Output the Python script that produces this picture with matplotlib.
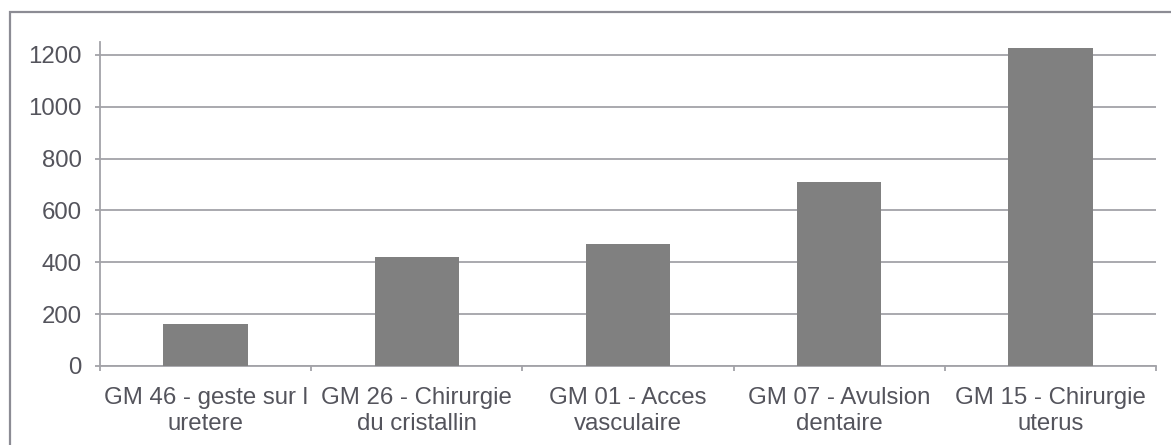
import matplotlib
matplotlib.use("Agg")
import matplotlib.pyplot as plt
from matplotlib.patches import Rectangle
from matplotlib.ticker import FixedLocator

categories = [
    "GM 46 - geste sur l\nuretere",
    "GM 26 - Chirurgie\ndu cristallin",
    "GM 01 - Acces\nvasculaire",
    "GM 07 - Avulsion\ndentaire",
    "GM 15 - Chirurgie\nuterus",
]
values = [162, 419, 472, 709, 1227]
yticks = [0, 200, 400, 600, 800, 1000, 1200]

plt.rcParams["font.family"] = ["Liberation Sans", "DejaVu Sans"]
grid_col = "#a3a3a8"
text_col = "#54545c"
fs = 17.3

fig = plt.figure(figsize=(11.71, 4.45), dpi=100)
W, H = 1171, 445
ax = fig.add_axes([100 / W, 1 - 366 / H, (1156 - 100) / W, (366 - 42) / H])

x = list(range(len(categories)))
ax.bar(x, values, width=0.4, color="#808080", zorder=3)

ax.set_xlim(-0.5, len(categories) - 0.5)
ax.set_ylim(0, 1250)
ax.set_yticks(yticks)
ax.yaxis.grid(True, color=grid_col, linewidth=1.3, zorder=0)

ax.set_xticks(x)
ax.set_xticklabels(categories, linespacing=1.25)
ax.xaxis.set_minor_locator(FixedLocator([i - 0.5 for i in range(len(categories) + 1)]))
ax.tick_params(axis="x", which="major", length=0, pad=15, labelsize=fs, labelcolor=text_col)
ax.tick_params(axis="x", which="minor", length=3.8, width=1.3, color=grid_col)
ax.tick_params(axis="y", length=3.8, width=1.3, color=grid_col, pad=9.5,
               labelsize=fs, labelcolor=text_col)

for s in ("top", "right"):
    ax.spines[s].set_visible(False)
for s in ("left", "bottom"):
    ax.spines[s].set_color(grid_col)
    ax.spines[s].set_linewidth(1.3)

# outer chart frame (cut off on the right and bottom in the reference)
fig.patches.append(Rectangle((10 / W, -0.1), 1.2, 1 - 12 / H + 0.1,
                             transform=fig.transFigure, fill=False,
                             edgecolor="#8c8c94", linewidth=1.6))

fig.savefig("out.png", dpi=100)
